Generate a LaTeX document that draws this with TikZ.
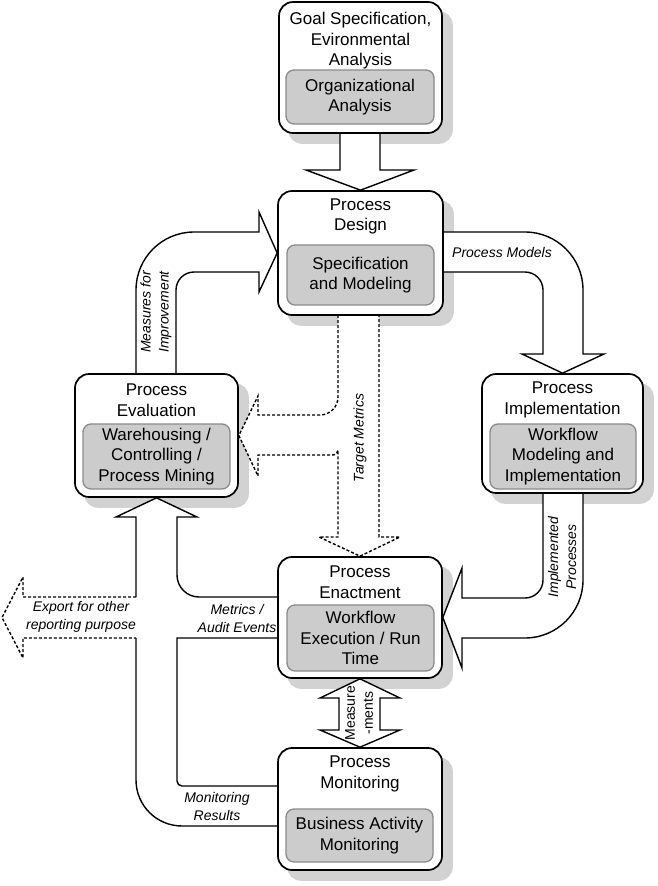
\documentclass[tikz,border=0pt]{standalone}
\usepackage{fontspec}
\setmainfont{Liberation Sans}
\definecolor{innerfill}{HTML}{CCCCCC}
\definecolor{innerline}{HTML}{8A8A8A}
\definecolor{shadowgrey}{HTML}{D2D2D2}
\pgfdeclarelayer{shadow}
\pgfdeclarelayer{arrows}
\pgfsetlayers{shadow,arrows,main}
\begin{document}
\begin{tikzpicture}[x=1pt,y=-1pt,
  boxfont/.style={font=\fontsize{17}{20.5}\selectfont},
  labfont/.style={font=\fontsize{14}{18}\selectfont\itshape},
  outerbox/.style={draw=black, line width=1.7pt, fill=white, rounded corners=14pt, inner sep=0pt},
  innerbox/.style={draw=innerline, line width=1.3pt, fill=innerfill, rounded corners=8pt,
                   inner sep=0pt, align=center, boxfont},
  title/.style={boxfont, align=center, inner sep=0pt},
  lab/.style={labfont, align=center, inner sep=0pt},
  uplab/.style={font=\fontsize{14}{18}\selectfont, align=center, inner sep=0pt},
  blockline/.style={draw=black, line width=1.4pt, line join=miter},
  blockarrow/.style={blockline, fill=white},
  dasharrow/.style={blockarrow, dash pattern=on 3pt off 2pt}]

\useasboundingbox (0,0) rectangle (658,886);

% ---------- process boxes ----------
\node[outerbox, minimum width=163pt, minimum height=131pt] (goal)   at (360.5,67.5) {};
\node[outerbox, minimum width=165pt, minimum height=124pt] (design) at (360.5,253)  {};
\node[outerbox, minimum width=163pt, minimum height=123pt] (eval)   at (156.5,435.5) {};
\node[outerbox, minimum width=161pt, minimum height=119pt] (impl)   at (562.5,433.5) {};
\node[outerbox, minimum width=164pt, minimum height=121pt] (enact)  at (360,617.5) {};
\node[outerbox, minimum width=164pt, minimum height=122pt] (monit)  at (360,809)   {};

% titles
\node[title] (goalt)   at (360.5,41)  {Goal Specification,\\Evironmental\\Analysis};
\node[title] (designt) at (360.5,216.5) {Process\\Design};
\node[title] (evalt)   at (156.5,400) {Process\\Evaluation};
\node[title] (implt)   at (562.5,400) {Process\\Implementation};
\node[title] (enactt)  at (360,582)   {Process\\Enactment};
\node[title] (monitt)  at (360,774)   {Process\\Monitoring};

% grey inner boxes
\node[innerbox, minimum width=148pt, minimum height=54pt] (goalin)   at (360,97)      {Organizational\\Analysis};
\node[innerbox, minimum width=147pt, minimum height=60pt] (designin) at (360.5,275)   {Specification\\and Modeling};
\node[innerbox, minimum width=147pt, minimum height=65pt] (evalin)   at (156.5,456.5) {Warehousing /\\Controlling /\\Process Mining};
\node[innerbox, minimum width=146pt, minimum height=65pt] (implin)   at (563,456.5)   {Workflow\\Modeling and\\Implementation};
\node[innerbox, minimum width=147pt, minimum height=66pt] (enactin)  at (360.5,638)   {Workflow\\Execution / Run\\Time};
\node[innerbox, minimum width=147pt, minimum height=53pt] (monitin)  at (359.5,835.5) {Business Activity\\Monitoring};

% ---------- drop shadows ----------
\begin{pgfonlayer}{shadow}
  \foreach \n in {goal,design,eval,impl,enact,monit}
    \fill[shadowgrey, rounded corners=14pt]
      ([shift={(10,10)}]\n.north west) rectangle ([shift={(10,10)}]\n.south east);
\end{pgfonlayer}

% ---------- block arrows ----------
\begin{pgfonlayer}{arrows}
  % goal -> design
  \draw[blockarrow] (340,133) -- (340,170) -- (306,170) -- (design.north)
    -- (414,170) -- (380,170) -- (380,133) -- cycle;

  % evaluation -> design (measures for improvement)
  \draw[blockarrow] (136,374) -- (136,290) arc[start angle=180, end angle=270, radius=58]
    -- (259,232) -- (259,212) -- (design.west) -- (259,292) -- (259,272) -- (194,272)
    arc[start angle=270, end angle=180, radius=18] -- (176,374) -- cycle;

  % design -> implementation (process models)
  \draw[blockarrow] (443,232) -- (525,232) arc[start angle=270, end angle=360, radius=58]
    -- (583,354) -- (604,354) -- (impl.north) -- (522,354) -- (543,354) -- (543,290)
    arc[start angle=0, end angle=-90, radius=18] -- (443,272) -- cycle;

  % implementation -> enactment (implemented processes)
  \draw[blockarrow] (543,493) -- (543,580) arc[start angle=0, end angle=90, radius=18]
    -- (462,598) -- (462,568) -- (enact.east) -- (462,668) -- (462,638) -- (525,638)
    arc[start angle=90, end angle=0, radius=58] -- (583,493) -- cycle;

  % design -> enactment and evaluation (target metrics)
  \draw[dasharrow] (338,315) -- (338,397) arc[start angle=0, end angle=90, radius=18]
    -- (258,415) -- (258,396) -- (eval.east) -- (258,476) -- (258,455) -- (332,455)
    .. controls (336,455) and (338,453) .. (338,450)
    -- (338,537) -- (319,537) -- (enact.north) -- (400,537) -- (379,537) -- (379,315) -- cycle;

  % enactment <-> monitoring (measurements)
  \draw[blockarrow] (339,698) -- (320,698) -- (enact.south) -- (400,698) -- (380,698)
    -- (380,730) -- (400,730) -- (monit.north) -- (320,730) -- (339,730) -- cycle;

  % enactment / monitoring -> evaluation
  \fill[white] (136,517) -- (116,517) -- (eval.south) -- (197,517) -- (177,517) -- (177,575)
    arc[start angle=180, end angle=90, radius=22] -- (278,597) -- (278,638) -- (177,638)
    -- (177,781) arc[start angle=180, end angle=90, radius=5] -- (278,786) -- (278,826)
    -- (182,826) arc[start angle=90, end angle=180, radius=46] -- cycle;
  \draw[blockline] (136,597) -- (136,517) -- (116,517) -- (eval.south) -- (197,517)
    -- (177,517) -- (177,575) arc[start angle=180, end angle=90, radius=22] -- (278,597);
  \draw[blockline] (278,638) -- (177,638) -- (177,781)
    arc[start angle=180, end angle=90, radius=5] -- (278,786);
  \draw[blockline] (278,826) -- (182,826) arc[start angle=90, end angle=180, radius=46]
    -- (136,638);

  % export for other reporting purposes
  \draw[dasharrow] (136,597) -- (23,597) -- (23,577) -- (2,617.5) -- (23,658)
    -- (23,638) -- (136,638);
\end{pgfonlayer}

% ---------- arrow labels ----------
\node[lab, rotate=90] (lmeas)    at (156,312) {Measures for\\Improvement};
\node[lab]            (lmodels)  at (502,252) {Process Models};
\node[lab, rotate=90] (limpl)    at (562,557) {Implemented\\Processes};
\node[lab, rotate=90] (ltarget)  at (360,438) {Target Metrics};
\node[lab]            (lexport)  at (81,617)  {Export for other\\reporting purpose};
\node[lab]            (lmetrics) at (237,618) {Metrics /\\Audit Events};
\node[lab]            (lmonres)  at (217,806) {Monitoring\\Results};
\node[uplab, rotate=90] (lmeasure) at (359,713) {Measure\\-ments};

\end{tikzpicture}
\end{document}
